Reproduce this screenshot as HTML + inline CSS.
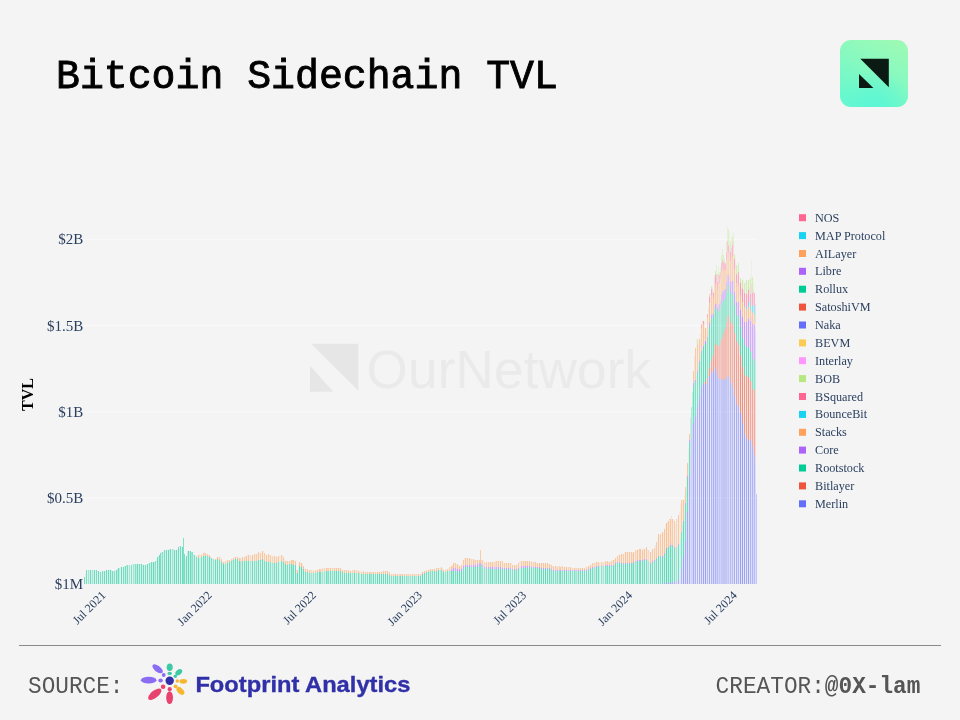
<!DOCTYPE html>
<html><head><meta charset="utf-8"><title>Bitcoin Sidechain TVL</title>
<style>
html,body{margin:0;padding:0;}
body{width:960px;height:720px;background:#f4f4f4;overflow:hidden;position:relative;font-family:"Liberation Sans",sans-serif;}
svg{position:absolute;left:0;top:0;opacity:0.999;}
.title{font-family:"Liberation Mono",monospace;font-size:39.85px;fill:#000;stroke:#000;stroke-width:0.9px;}
.lg{font-family:"Liberation Serif",serif;font-size:12.2px;fill:#2a3f5f;}
.yt{font-family:"Liberation Serif",serif;font-size:15px;fill:#2a3f5f;}
.xt{font-family:"Liberation Serif",serif;font-size:12px;fill:#2a3f5f;}
.tvl{font-family:"Liberation Serif",serif;font-size:16px;font-weight:bold;fill:#000;}
.wm{font-family:"Liberation Sans",sans-serif;font-size:53px;fill:#eaeaea;letter-spacing:0.2px;}
.src{font-family:"Liberation Mono",monospace;font-size:22px;fill:#555;}
.cr{font-family:"Liberation Mono",monospace;font-size:22.5px;fill:#555;}
.fp{font-family:"Liberation Sans",sans-serif;font-size:22px;font-weight:bold;fill:#3030a8;stroke:#3030a8;stroke-width:0.35px;}
</style></head>
<body>
<svg width="960" height="720" viewBox="0 0 960 720">
<defs>
<linearGradient id="lg1" x1="0.85" y1="0" x2="0.35" y2="1"><stop offset="0" stop-color="#9dfab4"/><stop offset="0.5" stop-color="#86f9c0"/><stop offset="1" stop-color="#68f8ce"/></linearGradient>
<radialGradient id="rg1" cx="0.52" cy="1" r="0.55"><stop offset="0" stop-color="#58f6d6" stop-opacity="0.9"/><stop offset="1" stop-color="#58f6d6" stop-opacity="0"/></radialGradient>
</defs>
<text x="56" y="88" class="title">Bitcoin Sidechain TVL</text>
<!-- logo -->
<rect x="840" y="40" width="68" height="67" rx="11" fill="url(#lg1)"/><rect x="840" y="40" width="68" height="67" rx="11" fill="url(#rg1)"/>
<path d="M860.3 58.8H888.8V87.2Z M859 74.1V87.9H873.4Z" fill="#0c1a14"/>
<!-- watermark -->
<path d="M311.2 343.8H358.3V390.8Z M310 365.8V391.7H333.3Z" fill="#e6e6e6"/>
<text x="366.6" y="388" class="wm">OurNetwork</text>
<!-- grid -->
<rect x="84" y="238.7" width="673" height="1.2" fill="#f9f9f9"/>
<rect x="84" y="324.9" width="673" height="1.2" fill="#f9f9f9"/>
<rect x="84" y="411.1" width="673" height="1.2" fill="#f9f9f9"/>
<rect x="84" y="497.3" width="673" height="1.2" fill="#f9f9f9"/>

<text x="83.2" y="244.4" class="yt" text-anchor="end">$2B</text>
<text x="83.2" y="330.6" class="yt" text-anchor="end">$1.5B</text>
<text x="83.2" y="416.8" class="yt" text-anchor="end">$1B</text>
<text x="83.2" y="503.0" class="yt" text-anchor="end">$0.5B</text>
<text x="83.2" y="589.1" class="yt" text-anchor="end">$1M</text>

<text transform="translate(106.5,596) rotate(-45)" class="xt" text-anchor="end">Jul 2021</text>
<text transform="translate(212.5,596) rotate(-45)" class="xt" text-anchor="end">Jan 2022</text>
<text transform="translate(316.7,596) rotate(-45)" class="xt" text-anchor="end">Jul 2022</text>
<text transform="translate(422.7,596) rotate(-45)" class="xt" text-anchor="end">Jan 2023</text>
<text transform="translate(526.9,596) rotate(-45)" class="xt" text-anchor="end">Jul 2023</text>
<text transform="translate(632.9,596) rotate(-45)" class="xt" text-anchor="end">Jan 2024</text>
<text transform="translate(737.7,596) rotate(-45)" class="xt" text-anchor="end">Jul 2024</text>

<text transform="translate(33,394.5) rotate(-90)" class="tvl" text-anchor="middle">TVL</text>
<mask id="stripes" maskUnits="userSpaceOnUse" x="80" y="200" width="690" height="395"><path d="M85.5 200V590M87.5 200V590M95.5 200V590M97.5 200V590M99.5 200V590M101.5 200V590M105.5 200V590M107.5 200V590M115.5 200V590M120.5 200V590M122.5 200V590M128.5 200V590M130.5 200V590M132.5 200V590M146.5 200V590M148.5 200V590M156.5 200V590M167.5 200V590M171.5 200V590M179.5 200V590M181.5 200V590M195.5 200V590M202.5 200V590M206.5 200V590M218.5 200V590M220.5 200V590M226.5 200V590M228.5 200V590M230.5 200V590M236.5 200V590M243.5 200V590M249.5 200V590M253.5 200V590M259.5 200V590M261.5 200V590M267.5 200V590M280.5 200V590M288.5 200V590M294.5 200V590M298.5 200V590M304.5 200V590M341.5 200V590M343.5 200V590M345.5 200V590M347.5 200V590M351.5 200V590M357.5 200V590M360.5 200V590M368.5 200V590M376.5 200V590M380.5 200V590M384.5 200V590M386.5 200V590M388.5 200V590M403.5 200V590M405.5 200V590M417.5 200V590M419.5 200V590M421.5 200V590M423.5 200V590M427.5 200V590M439.5 200V590M462.5 200V590M464.5 200V590M468.5 200V590M472.5 200V590M476.5 200V590M487.5 200V590M499.5 200V590M501.5 200V590M505.5 200V590M507.5 200V590M511.5 200V590M513.5 200V590M528.5 200V590M530.5 200V590M542.5 200V590M544.5 200V590M546.5 200V590M554.5 200V590M565.5 200V590M571.5 200V590M581.5 200V590M583.5 200V590M585.5 200V590M587.5 200V590M600.5 200V590M604.5 200V590M612.5 200V590M616.5 200V590M618.5 200V590M620.5 200V590M622.5 200V590M624.5 200V590M628.5 200V590M630.5 200V590M641.5 200V590M645.5 200V590M649.5 200V590M653.5 200V590M657.5 200V590M661.5 200V590M673.5 200V590M677.5 200V590M679.5 200V590M696.5 200V590M698.5 200V590M710.5 200V590M735.5 200V590M739.5 200V590M743.5 200V590M745.5 200V590" stroke="rgb(20,20,20)" stroke-width="1" fill="none"/><path d="M89.5 200V590M91.5 200V590M93.5 200V590M103.5 200V590M109.5 200V590M140.5 200V590M142.5 200V590M144.5 200V590M163.5 200V590M165.5 200V590M175.5 200V590M177.5 200V590M197.5 200V590M200.5 200V590M212.5 200V590M214.5 200V590M216.5 200V590M222.5 200V590M224.5 200V590M234.5 200V590M238.5 200V590M247.5 200V590M251.5 200V590M257.5 200V590M263.5 200V590M265.5 200V590M271.5 200V590M275.5 200V590M277.5 200V590M279.5 200V590M300.5 200V590M302.5 200V590M306.5 200V590M308.5 200V590M314.5 200V590M318.5 200V590M323.5 200V590M325.5 200V590M329.5 200V590M331.5 200V590M337.5 200V590M339.5 200V590M349.5 200V590M353.5 200V590M355.5 200V590M364.5 200V590M366.5 200V590M374.5 200V590M378.5 200V590M382.5 200V590M390.5 200V590M392.5 200V590M394.5 200V590M398.5 200V590M401.5 200V590M411.5 200V590M413.5 200V590M425.5 200V590M433.5 200V590M435.5 200V590M437.5 200V590M444.5 200V590M446.5 200V590M448.5 200V590M454.5 200V590M458.5 200V590M460.5 200V590M478.5 200V590M483.5 200V590M485.5 200V590M497.5 200V590M503.5 200V590M509.5 200V590M517.5 200V590M519.5 200V590M520.5 200V590M522.5 200V590M532.5 200V590M538.5 200V590M540.5 200V590M548.5 200V590M563.5 200V590M567.5 200V590M573.5 200V590M579.5 200V590M591.5 200V590M610.5 200V590M626.5 200V590M634.5 200V590M638.5 200V590M651.5 200V590M659.5 200V590M663.5 200V590M665.5 200V590M675.5 200V590M680.5 200V590M682.5 200V590M684.5 200V590M688.5 200V590M700.5 200V590M702.5 200V590M704.5 200V590M706.5 200V590M708.5 200V590M741.5 200V590M747.5 200V590M749.5 200V590" stroke="rgb(31,31,31)" stroke-width="1" fill="none"/><path d="M111.5 200V590M113.5 200V590M124.5 200V590M134.5 200V590M138.5 200V590M152.5 200V590M158.5 200V590M161.5 200V590M169.5 200V590M173.5 200V590M185.5 200V590M187.5 200V590M189.5 200V590M193.5 200V590M199.5 200V590M208.5 200V590M210.5 200V590M232.5 200V590M241.5 200V590M245.5 200V590M255.5 200V590M269.5 200V590M273.5 200V590M282.5 200V590M284.5 200V590M286.5 200V590M290.5 200V590M296.5 200V590M312.5 200V590M316.5 200V590M321.5 200V590M333.5 200V590M335.5 200V590M362.5 200V590M372.5 200V590M396.5 200V590M409.5 200V590M415.5 200V590M429.5 200V590M431.5 200V590M450.5 200V590M456.5 200V590M466.5 200V590M470.5 200V590M493.5 200V590M526.5 200V590M534.5 200V590M536.5 200V590M552.5 200V590M558.5 200V590M561.5 200V590M569.5 200V590M577.5 200V590M589.5 200V590M593.5 200V590M595.5 200V590M597.5 200V590M602.5 200V590M608.5 200V590M614.5 200V590M643.5 200V590M647.5 200V590M655.5 200V590M667.5 200V590M669.5 200V590M686.5 200V590M690.5 200V590M729.5 200V590M733.5 200V590M737.5 200V590M751.5 200V590M755.5 200V590" stroke="rgb(41,41,41)" stroke-width="1" fill="none"/><path d="M119.5 200V590M126.5 200V590M150.5 200V590M204.5 200V590M310.5 200V590M442.5 200V590M474.5 200V590M489.5 200V590M491.5 200V590M515.5 200V590M524.5 200V590M550.5 200V590M556.5 200V590M599.5 200V590M671.5 200V590M692.5 200V590M694.5 200V590M712.5 200V590M714.5 200V590M731.5 200V590M753.5 200V590" stroke="rgb(51,51,51)" stroke-width="1" fill="none"/><path d="M117.5 200V590M136.5 200V590M154.5 200V590M359.5 200V590M407.5 200V590M440.5 200V590M636.5 200V590M718.5 200V590M720.5 200V590" stroke="rgb(61,61,61)" stroke-width="1" fill="none"/><path d="M452.5 200V590M495.5 200V590M575.5 200V590M606.5 200V590M632.5 200V590M691.5 200V590M716.5 200V590M727.5 200V590" stroke="rgb(71,71,71)" stroke-width="1" fill="none"/><path d="M191.5 200V590M250.5 200V590M292.5 200V590M327.5 200V590M370.5 200V590M416.5 200V590M481.5 200V590M603.5 200V590M648.5 200V590M719.5 200V590M721.5 200V590M722.5 200V590M724.5 200V590M726.5 200V590M756.5 200V590" stroke="rgb(82,82,82)" stroke-width="1" fill="none"/><path d="M88.5 200V590M92.5 200V590M129.5 200V590M133.5 200V590M172.5 200V590M240.5 200V590M272.5 200V590M311.5 200V590M322.5 200V590M324.5 200V590M352.5 200V590M356.5 200V590M399.5 200V590M408.5 200V590M449.5 200V590M494.5 200V590M576.5 200V590M594.5 200V590M635.5 200V590M676.5 200V590M723.5 200V590M725.5 200V590M728.5 200V590" stroke="rgb(92,92,92)" stroke-width="1" fill="none"/><path d="M213.5 200V590M313.5 200V590M315.5 200V590M410.5 200V590M445.5 200V590M471.5 200V590M482.5 200V590M484.5 200V590M568.5 200V590M601.5 200V590M717.5 200V590M732.5 200V590" stroke="rgb(102,102,102)" stroke-width="1" fill="none"/><path d="M155.5 200V590M192.5 200V590M225.5 200V590M332.5 200V590M371.5 200V590M406.5 200V590M533.5 200V590M559.5 200V590M572.5 200V590M707.5 200V590M730.5 200V590M754.5 200V590" stroke="rgb(112,112,112)" stroke-width="1" fill="none"/><path d="M114.5 200V590M131.5 200V590M135.5 200V590M149.5 200V590M162.5 200V590M183.5 200V590M196.5 200V590M207.5 200V590M211.5 200V590M233.5 200V590M254.5 200V590M256.5 200V590M270.5 200V590M278.5 200V590M309.5 200V590M317.5 200V590M328.5 200V590M363.5 200V590M365.5 200V590M375.5 200V590M391.5 200V590M393.5 200V590M404.5 200V590M412.5 200V590M430.5 200V590M432.5 200V590M441.5 200V590M479.5 200V590M480.5 200V590M486.5 200V590M488.5 200V590M496.5 200V590M510.5 200V590M512.5 200V590M516.5 200V590M551.5 200V590M555.5 200V590M557.5 200V590M562.5 200V590M574.5 200V590M605.5 200V590M611.5 200V590M617.5 200V590M654.5 200V590M681.5 200V590M695.5 200V590M697.5 200V590M711.5 200V590M715.5 200V590M738.5 200V590M750.5 200V590M752.5 200V590" stroke="rgb(122,122,122)" stroke-width="1" fill="none"/><path d="M84.5 200V590M86.5 200V590M96.5 200V590M100.5 200V590M102.5 200V590M112.5 200V590M123.5 200V590M125.5 200V590M127.5 200V590M139.5 200V590M145.5 200V590M160.5 200V590M164.5 200V590M184.5 200V590M194.5 200V590M201.5 200V590M219.5 200V590M231.5 200V590M237.5 200V590M242.5 200V590M244.5 200V590M260.5 200V590M264.5 200V590M268.5 200V590M274.5 200V590M276.5 200V590M281.5 200V590M283.5 200V590M287.5 200V590M289.5 200V590M305.5 200V590M307.5 200V590M320.5 200V590M334.5 200V590M358.5 200V590M361.5 200V590M367.5 200V590M389.5 200V590M397.5 200V590M414.5 200V590M426.5 200V590M428.5 200V590M434.5 200V590M436.5 200V590M447.5 200V590M455.5 200V590M463.5 200V590M467.5 200V590M475.5 200V590M490.5 200V590M502.5 200V590M504.5 200V590M514.5 200V590M518.5 200V590M521.5 200V590M523.5 200V590M531.5 200V590M537.5 200V590M553.5 200V590M578.5 200V590M584.5 200V590M586.5 200V590M588.5 200V590M592.5 200V590M598.5 200V590M607.5 200V590M609.5 200V590M623.5 200V590M639.5 200V590M646.5 200V590M652.5 200V590M656.5 200V590M660.5 200V590M672.5 200V590M674.5 200V590M678.5 200V590M685.5 200V590M689.5 200V590M693.5 200V590M699.5 200V590M701.5 200V590M713.5 200V590M734.5 200V590M736.5 200V590" stroke="rgb(133,133,133)" stroke-width="1" fill="none"/><path d="M90.5 200V590M94.5 200V590M98.5 200V590M104.5 200V590M108.5 200V590M110.5 200V590M116.5 200V590M118.5 200V590M121.5 200V590M137.5 200V590M141.5 200V590M143.5 200V590M147.5 200V590M151.5 200V590M157.5 200V590M159.5 200V590M166.5 200V590M170.5 200V590M174.5 200V590M176.5 200V590M178.5 200V590M180.5 200V590M182.5 200V590M186.5 200V590M190.5 200V590M198.5 200V590M203.5 200V590M205.5 200V590M209.5 200V590M215.5 200V590M217.5 200V590M221.5 200V590M227.5 200V590M229.5 200V590M235.5 200V590M246.5 200V590M248.5 200V590M252.5 200V590M258.5 200V590M285.5 200V590M291.5 200V590M293.5 200V590M295.5 200V590M319.5 200V590M326.5 200V590M330.5 200V590M338.5 200V590M340.5 200V590M342.5 200V590M344.5 200V590M346.5 200V590M350.5 200V590M369.5 200V590M373.5 200V590M383.5 200V590M385.5 200V590M395.5 200V590M400.5 200V590M402.5 200V590M420.5 200V590M424.5 200V590M443.5 200V590M451.5 200V590M473.5 200V590M477.5 200V590M492.5 200V590M506.5 200V590M525.5 200V590M527.5 200V590M535.5 200V590M547.5 200V590M549.5 200V590M560.5 200V590M564.5 200V590M570.5 200V590M580.5 200V590M582.5 200V590M590.5 200V590M596.5 200V590M615.5 200V590M619.5 200V590M627.5 200V590M631.5 200V590M633.5 200V590M637.5 200V590M640.5 200V590M642.5 200V590M644.5 200V590M650.5 200V590M658.5 200V590M664.5 200V590M668.5 200V590M687.5 200V590M709.5 200V590M746.5 200V590" stroke="rgb(143,143,143)" stroke-width="1" fill="none"/><path d="M106.5 200V590M153.5 200V590M168.5 200V590M188.5 200V590M239.5 200V590M262.5 200V590M266.5 200V590M297.5 200V590M299.5 200V590M303.5 200V590M336.5 200V590M348.5 200V590M354.5 200V590M377.5 200V590M379.5 200V590M381.5 200V590M387.5 200V590M418.5 200V590M438.5 200V590M453.5 200V590M457.5 200V590M459.5 200V590M461.5 200V590M465.5 200V590M469.5 200V590M498.5 200V590M500.5 200V590M508.5 200V590M529.5 200V590M541.5 200V590M543.5 200V590M566.5 200V590M613.5 200V590M621.5 200V590M625.5 200V590M629.5 200V590M662.5 200V590M670.5 200V590M683.5 200V590M703.5 200V590M744.5 200V590M748.5 200V590" stroke="rgb(153,153,153)" stroke-width="1" fill="none"/><path d="M223.5 200V590M301.5 200V590M422.5 200V590M539.5 200V590M545.5 200V590M666.5 200V590M705.5 200V590M740.5 200V590M742.5 200V590" stroke="rgb(163,163,163)" stroke-width="1" fill="none"/></mask>
<filter id="soft" filterUnits="userSpaceOnUse" x="78" y="200" width="690" height="395"><feGaussianBlur stdDeviation="0.35 0.3"/></filter>
<g filter="url(#soft)"><g mask="url(#stripes)" shape-rendering="crispEdges"><path d="M84 584V576.7h1V572.6h1V570.4h1h1V570.3h1V570.1h1V569.9h1V569.7h1h1V569.6h1h1V570.1h1V570.4h1V570.8h1V571.3h1V571.7h1V571.6h1h1V571.3h1V571.1h1V570.8h1V570.5h1V570.3h1V570.1h1V569.6h1V569.9h1V570.1h1V570.4h1V570.8h1V570.9h1V570.7h1V570h1V569.5h1V568.7h1V568.4h1V568h1V567.3h1h1V566.8h1V566.6h1V566.2h1V565.7h1V565.4h1V565h1V564.8h1h1V564.5h1h1V564h1V564.1h1V563.9h1h1V563.8h1V563.9h1V563.7h1V563.8h1V563.7h1V564.1h1V564.4h1V564.7h1V564.8h1V564.7h1V564h1V563.7h1V563.1h1V562.7h1V562.5h1V562.2h1V561.9h1V561.8h1V561.5h1V560.6h1V558.9h1V557.3h1V556h1V554.6h1V553.4h1V552.2h1V551.8h1V550.7h1V550.4h1V550.2h1V549.9h1V549.2h1V549.5h1V549.2h1V549.3h1V549.8h1V548.8h1V549.4h1V549.8h1h1V549.7h1V548.6h1V547.2h1V546h1V546.1h1V546.6h1V546.9h1V537.6h1V554.2h1V559.3h1V555.7h1V550.7h1V551.3h1h1V551.4h1V551.5h1V551.6h1V553.5h1V554.7h1V555.5h1V556h1V556.4h1V555h1V554.2h1V554.3h1V554.5h1V554h1V553.4h1V551.6h1V552.6h1V553.5h1V553.8h1V555.2h1V555.4h1V557h1V557.7h1V558h1V558.6h1V559.5h1V559.2h1V558.3h1V556.6h1V556h1V556.5h1V556.7h1V558.6h1V561.7h1V561.6h1V561.5h1V561.2h1V560.8h1V560.3h1V560.2h1V559.8h1V559.7h1V558.5h1V558.1h1V557.9h1V557.4h1V557h1V555.9h1V556.5h1h1V557.6h1V558h1V558.1h1V556.6h1h1V556.8h1V555.8h1V556.1h1V554.3h1V554.9h1V555h1V555.1h1V555.6h1V554.8h1V554.9h1V553.9h1V554.4h1V553.7h1V552.6h1V551.5h1V552.9h1V552.7h1V551.6h1V551.3h1h1V553.2h1V554.1h1V554.6h1V554.8h1V554.4h1V554.9h1V554.7h1V555.7h1V555.8h1V556.1h1V556h1V556.4h1V556.7h1V556h1V555.6h1V555.5h1V555.1h1V555.2h1h1V556.9h1V559h1V561.1h1V561.3h1V561.2h1V560.7h1V560.5h1V560.6h1V560h1V560.2h1V560.3h1V560.4h1V561.2h1V570.3h1V569.9h1V564.2h1V562.3h1V562.7h1V562.6h1V562.8h1V566.1h1V567.9h1V568.6h1V569h1h1V569.5h1V569.7h1V569.9h1V570.4h1h1V570.5h1V570.6h1V570.2h1V570.1h1V569.7h1V569.4h1V569h1h1V568.7h1V568.4h1V567.7h1V567.6h1V567.8h1V567.7h1h1h1V567.8h1h1V568h1V567.9h1V567.5h1V567.7h1h1V567.8h1V567.7h1h1V567.9h1V568h1V568.7h1V569.5h1V569.9h1V570.1h1V570.2h1V570h1V570.6h1V570.4h1V570.5h1V570.6h1V570.5h1V570.2h1V570.1h1V570h1V569.9h1V570h1V570.2h1V570.7h1V571.1h1V571.4h1V571.7h1h1V571.4h1V571.6h1V571.7h1V571.5h1V571.8h1V571.5h1V571.7h1V572.1h1h1V572h1V571.6h1V571.5h1V571.8h1V571.5h1V571.6h1V571.3h1V571.5h1V571.4h1V571.6h1V571.4h1h1V571.2h1V571h1V570.9h1V571.3h1V571.5h1V572.3h1V574.3h1V574.2h1V574.3h1V574.4h1V574.2h1h1V574.4h1V574.2h1h1V574.1h1h1h1V574h1V574.1h1h1V573.9h1V574.1h1h1V574.3h1V574.2h1V574.1h1V574.4h1V573.9h1V574.3h1h1h1h1V574.2h1V574.4h1h1V574.2h1V573.2h1V571.9h1V571.5h1V570.7h1V570.5h1V570.2h1V570.3h1V569.6h1V569.1h1V569h1V569.1h1V569h1V568.8h1h1V568.4h1V568.3h1V568.1h1V567.7h1V567.8h1h1V567.1h1V568.2h1V569.5h1V570.6h1V569.9h1V569.1h1V568.6h1V567.5h1V567.4h1V566.7h1V565.7h1V564.6h1V563.4h1V562.3h1V563.2h1V563.8h1V564.1h1V564.9h1V566h1V566.1h1V564.8h1V562.6h1V560h1V557.5h1V557.6h1V558.1h1V558.4h1V558.7h1V558.3h1V558.5h1V558.8h1V559h1V559.2h1V559.7h1h1V560.3h1V559.6h1V560.2h1V559.8h1V550.2h1V560h1V559.9h1V560.7h1V562.2h1V562.7h1V562.2h1V562.5h1V562.1h1V562.2h1V562h1V562.3h1V561.5h1V561.7h1h1V560.8h1V561h1V560.1h1V560.8h1V560.9h1V560.7h1V560.2h1V561.4h1V562.6h1V562.9h1V563.2h1V563h1V563.1h1V563.3h1V562.8h1V563.1h1V563.3h1V564.5h1V565.3h1V564.8h1V564.7h1V564.9h1V564.4h1V563h1V561h1h1h1h1V561.1h1V560.9h1V561.3h1h1h1V561.2h1V561.1h1V560.8h1V561.9h1V561.1h1V561.7h1V561.5h1V562.2h1V563.2h1h1V563.8h1V563.4h1V563.6h1V563.2h1V563h1V562.8h1V562.7h1V563.1h1V562.8h1V562.9h1V563.5h1V563.9h1h1V564.8h1V566h1h1V565.8h1h1V566.2h1V566.5h1V566.3h1V566.4h1V566.5h1V566.1h1V566.2h1V566.6h1V566.7h1V566.4h1V566.9h1V567.3h1V567h1V567.4h1V567.1h1V567.8h1V568h1V568.3h1V567.6h1V568.2h1V568h1V568.1h1h1V567.8h1h1V568h1V568.2h1h1V568h1V567.3h1h1V566.8h1V566.2h1V565.8h1V565h1V564.1h1V562.6h1V562.7h1V562.6h1V562.8h1V562.4h1h1V562.2h1V562.6h1V562.3h1V562h1h1h1h1V561.1h1V561.8h1V561.2h1V561.9h1V561.6h1V561h1V561.1h1V560.3h1h1V559.8h1V557.9h1V556.6h1V556.1h1V554.1h1V555h1V554h1V554.2h1V554h1V553.5h1V553.1h1V552.1h1V550.9h1V551.6h1V552.2h1V552h1V552.3h1V552.1h1V552.7h1V552.3h1V551.5h1V550.2h1V550.3h1V549.6h1V549.3h1V549.1h1V548.7h1V548.4h1V549.5h1V548.2h1V548.6h1h1V547.4h1V549.4h1V549.9h1V550.9h1V552.3h1V550.6h1V549.3h1V548.5h1V548.2h1V545.1h1V541.5h1V538.4h1V533.9h1V534.5h1V534.1h1V533.6h1V532.2h1V532.3h1V528.6h1V525.3h1V522.7h1V521.1h1V521.2h1V517.5h1V519h1V516.3h1V519.3h1V519h1V521.3h1V523.7h1V519.4h1V518h1V514.9h1V512.3h1V505h1V499.8h1V499.2h1V500.1h1V496.3h1V486.8h1V475.8h1V462.8h1V448.7h1V433.7h1V418h1V406.5h1V391.9h1V371.1h1V355.7h1V348.1h1V337.6h1V339.3h1V341.3h1V339.1h1V334h1V324.1h1V318.4h1V320.9h1V320.8h1V328.2h1V330.5h1V313.9h1V306.4h1V293.9h1V292.6h1V285.5h1V286.5h1V291.6h1V274.8h1V271.3h1V265.2h1V274.3h1V267.2h1V271.7h1V266.5h1V254.9h1V249h1V255.4h1V259.4h1V262.2h1V241.9h1V227h1V229.2h1V233.5h1V241.6h1V238h1V235.8h1V231.7h1V253.5h1V256.1h1V264.8h1V265.8h1V262.8h1V280.7h1V277.7h1V281.4h1V280h1V277.9h1V283.4h1V280.6h1V279.7h1V283h1V280.3h1V280.2h1V278.2h1V259.7h1V277.1h1V282.3h1V293.3h1V304.3h1V493.6h1V584Z" fill="#B6E880"/>
<path d="M84 584V576.7h1V572.6h1V570.4h1h1V570.3h1V570.1h1V569.9h1V569.7h1h1V569.6h1h1V570.1h1V570.4h1V570.8h1V571.3h1V571.7h1V571.6h1h1V571.3h1V571.1h1V570.8h1V570.5h1V570.3h1V570.1h1V569.6h1V569.9h1V570.1h1V570.4h1V570.8h1V570.9h1V570.7h1V570h1V569.5h1V568.7h1V568.4h1V568h1V567.3h1h1V566.8h1V566.6h1V566.2h1V565.7h1V565.4h1V565h1V564.8h1h1V564.5h1h1V564h1V564.1h1V563.9h1h1V563.8h1V563.9h1V563.7h1V563.8h1V563.7h1V564.1h1V564.4h1V564.7h1V564.8h1V564.7h1V564h1V563.7h1V563.1h1V562.7h1V562.5h1V562.2h1V561.9h1V561.8h1V561.5h1V560.6h1V558.9h1V557.3h1V556h1V554.6h1V553.4h1V552.2h1V551.8h1V550.7h1V550.4h1V550.2h1V549.9h1V549.2h1V549.5h1V549.2h1V549.3h1V549.8h1V548.8h1V549.4h1V549.8h1h1V549.7h1V548.6h1V547.2h1V546h1V546.1h1V546.6h1V546.9h1V537.6h1V554.2h1V559.3h1V555.7h1V550.7h1V551.3h1h1V551.4h1V551.5h1V551.6h1V553.5h1V554.7h1V555.5h1V556h1V556.4h1V555h1V554.2h1V554.3h1V554.5h1V554h1V553.4h1V551.6h1V552.6h1V553.5h1V553.8h1V555.2h1V555.4h1V557h1V557.7h1V558h1V558.6h1V559.5h1V559.2h1V558.3h1V556.6h1V556h1V556.5h1V556.7h1V558.6h1V561.7h1V561.6h1V561.5h1V561.2h1V560.8h1V560.3h1V560.2h1V559.8h1V559.7h1V558.5h1V558.1h1V557.9h1V557.4h1V557h1V555.9h1V556.5h1h1V557.6h1V558h1V558.1h1V556.6h1h1V556.8h1V555.8h1V556.1h1V554.3h1V554.9h1V555h1V555.1h1V555.6h1V554.8h1V554.9h1V553.9h1V554.4h1V553.7h1V552.6h1V551.5h1V552.9h1V552.7h1V551.6h1V551.3h1h1V553.2h1V554.1h1V554.6h1V554.8h1V554.4h1V554.9h1V554.7h1V555.7h1V555.8h1V556.1h1V556h1V556.4h1V556.7h1V556h1V555.6h1V555.5h1V555.1h1V555.2h1h1V556.9h1V559h1V561.1h1V561.3h1V561.2h1V560.7h1V560.5h1V560.6h1V560h1V560.2h1V560.3h1V560.4h1V561.2h1V570.3h1V569.9h1V564.2h1V562.3h1V562.7h1V562.6h1V562.8h1V566.1h1V567.9h1V568.6h1V569h1h1V569.5h1V569.7h1V569.9h1V570.4h1h1V570.5h1V570.6h1V570.2h1V570.1h1V569.7h1V569.4h1V569h1h1V568.7h1V568.4h1V567.7h1V567.6h1V567.8h1V567.7h1h1h1V567.8h1h1V568h1V567.9h1V567.5h1V567.7h1h1V567.8h1V567.7h1h1V567.9h1V568h1V568.7h1V569.5h1V569.9h1V570.1h1V570.2h1V570h1V570.6h1V570.4h1V570.5h1V570.6h1V570.5h1V570.2h1V570.1h1V570h1V569.9h1V570h1V570.2h1V570.7h1V571.1h1V571.4h1V571.7h1h1V571.4h1V571.6h1V571.7h1V571.5h1V571.8h1V571.5h1V571.7h1V572.1h1h1V572h1V571.6h1V571.5h1V571.8h1V571.5h1V571.6h1V571.3h1V571.5h1V571.4h1V571.6h1V571.4h1h1V571.2h1V571h1V570.9h1V571.3h1V571.5h1V572.3h1V574.3h1V574.2h1V574.3h1V574.4h1V574.2h1h1V574.4h1V574.2h1h1V574.1h1h1h1V574h1V574.1h1h1V573.9h1V574.1h1h1V574.3h1V574.2h1V574.1h1V574.4h1V573.9h1V574.3h1h1h1h1V574.2h1V574.4h1h1V574.2h1V573.2h1V571.9h1V571.5h1V570.7h1V570.5h1V570.2h1V570.3h1V569.6h1V569.1h1V569h1V569.1h1V569h1V568.8h1h1V568.4h1V568.3h1V568.1h1V567.7h1V567.8h1h1V567.1h1V568.2h1V569.5h1V570.6h1V569.9h1V569.1h1V568.6h1V567.5h1V567.4h1V566.7h1V565.7h1V564.6h1V563.4h1V562.3h1V563.2h1V563.8h1V564.1h1V564.9h1V566h1V566.1h1V564.8h1V562.6h1V560h1V557.5h1V557.6h1V558.1h1V558.4h1V558.7h1V558.3h1V558.5h1V558.8h1V559h1V559.2h1V559.7h1h1V560.3h1V559.6h1V560.2h1V559.8h1V550.2h1V560h1V559.9h1V560.7h1V562.2h1V562.7h1V562.2h1V562.5h1V562.1h1V562.2h1V562h1V562.3h1V561.5h1V561.7h1h1V560.8h1V561h1V560.1h1V560.8h1V560.9h1V560.7h1V560.2h1V561.4h1V562.6h1V562.9h1V563.2h1V563h1V563.1h1V563.3h1V562.8h1V563.1h1V563.3h1V564.5h1V565.3h1V564.8h1V564.7h1V564.9h1V564.4h1V563h1V561h1h1h1h1V561.1h1V560.9h1V561.3h1h1h1V561.2h1V561.1h1V560.8h1V561.9h1V561.1h1V561.7h1V561.5h1V562.2h1V563.2h1h1V563.8h1V563.4h1V563.6h1V563.2h1V563h1V562.8h1V562.7h1V563.1h1V562.8h1V562.9h1V563.5h1V563.9h1h1V564.8h1V566h1h1V565.8h1h1V566.2h1V566.5h1V566.3h1V566.4h1V566.5h1V566.1h1V566.2h1V566.6h1V566.7h1V566.4h1V566.9h1V567.3h1V567h1V567.4h1V567.1h1V567.8h1V568h1V568.3h1V567.6h1V568.2h1V568h1V568.1h1h1V567.8h1h1V568h1V568.2h1h1V568h1V567.3h1h1V566.8h1V566.2h1V565.8h1V565h1V564.1h1V562.6h1V562.7h1V562.6h1V562.8h1V562.4h1h1V562.2h1V562.6h1V562.3h1V562h1h1h1h1V561.1h1V561.8h1V561.2h1V561.9h1V561.6h1V561h1V561.1h1V560.3h1h1V559.8h1V557.9h1V556.6h1V556.1h1V554.1h1V555h1V554h1V554.2h1V554h1V553.5h1V553.1h1V552.1h1V550.9h1V551.6h1V552.2h1V552h1V552.3h1V552.1h1V552.7h1V552.3h1V551.5h1V550.2h1V550.3h1V549.6h1V549.3h1V549.1h1V548.7h1V548.4h1V549.5h1V548.2h1V548.6h1h1V547.4h1V549.4h1V549.9h1V550.9h1V552.3h1V550.6h1V549.3h1V548.5h1V548.2h1V545.1h1V541.5h1V538.4h1V533.9h1V534.5h1V534.1h1V533.6h1V532.2h1V532.3h1V528.6h1V525.3h1V522.7h1V521.1h1V521.2h1V517.5h1V519h1V516.3h1V519.3h1V519h1V521.3h1V523.7h1V519.4h1V518h1V514.9h1V512.3h1V505h1V499.8h1V499.2h1V500.1h1V496.3h1V486.8h1V475.8h1V462.8h1V448.7h1V433.7h1V418h1V406.5h1V391.9h1V371.1h1V355.7h1V348.1h1V337.6h1V344.9h1V341.4h1V339.1h1V334h1V324.6h1V320.9h1h1V320.8h1V328.2h1V330.5h1V313.9h1V307.8h1V297h1V295.7h1V289h1V288.9h1V292.5h1V278.4h1V275.2h1V274h1V281.7h1V275.3h1h1V271.7h1V263.4h1V259.7h1V262.4h1V263.3h1V264h1V252.3h1V241.3h1V244.5h1V246.9h1V252h1V247.9h1V244.6h1V240.8h1V258.9h1V263.8h1V273.9h1V276.1h1V271.8h1V285.4h1V283.3h1V288.4h1V289.1h1V287.3h1V292.7h1V293.9h1V293.8h1V296.3h1V289.7h1V287.1h1V293.6h1V283.9h1V293.3h1V290.4h1V293.3h1V304.3h1V493.6h1V584Z" fill="#FF6692"/>
<path d="M84 584V576.7h1V572.6h1V570.4h1h1V570.3h1V570.1h1V569.9h1V569.7h1h1V569.6h1h1V570.1h1V570.4h1V570.8h1V571.3h1V571.7h1V571.6h1h1V571.3h1V571.1h1V570.8h1V570.5h1V570.3h1V570.1h1V569.6h1V569.9h1V570.1h1V570.4h1V570.8h1V570.9h1V570.7h1V570h1V569.5h1V568.7h1V568.4h1V568h1V567.3h1h1V566.8h1V566.6h1V566.2h1V565.7h1V565.4h1V565h1V564.8h1h1V564.5h1h1V564h1V564.1h1V563.9h1h1V563.8h1V563.9h1V563.7h1V563.8h1V563.7h1V564.1h1V564.4h1V564.7h1V564.8h1V564.7h1V564h1V563.7h1V563.1h1V562.7h1V562.5h1V562.2h1V561.9h1V561.8h1V561.5h1V560.6h1V558.9h1V557.3h1V556h1V554.6h1V553.4h1V552.2h1V551.8h1V550.7h1V550.4h1V550.2h1V549.9h1V549.2h1V549.5h1V549.2h1V549.3h1V549.8h1V548.8h1V549.4h1V549.8h1h1V549.7h1V548.6h1V547.2h1V546h1V546.1h1V546.6h1V546.9h1V537.6h1V554.2h1V559.3h1V555.7h1V550.7h1V551.3h1h1V551.4h1V551.5h1V551.6h1V553.5h1V554.7h1V555.5h1V556h1V556.4h1V555h1V554.2h1V554.3h1V554.5h1V554h1V553.4h1V551.6h1V552.6h1V553.5h1V553.8h1V555.2h1V555.4h1V557h1V557.7h1V558h1V558.6h1V559.5h1V559.2h1V558.3h1V556.6h1V556h1V556.5h1V556.7h1V558.6h1V561.7h1V561.6h1V561.5h1V561.2h1V560.8h1V560.3h1V560.2h1V559.8h1V559.7h1V558.5h1V558.1h1V557.9h1V557.4h1V557h1V555.9h1V556.5h1h1V557.6h1V558h1V558.1h1V556.6h1h1V556.8h1V555.8h1V556.1h1V554.3h1V554.9h1V555h1V555.1h1V555.6h1V554.8h1V554.9h1V553.9h1V554.4h1V553.7h1V552.6h1V551.5h1V552.9h1V552.7h1V551.6h1V551.3h1h1V553.2h1V554.1h1V554.6h1V554.8h1V554.4h1V554.9h1V554.7h1V555.7h1V555.8h1V556.1h1V556h1V556.4h1V556.7h1V556h1V555.6h1V555.5h1V555.1h1V555.2h1h1V556.9h1V559h1V561.1h1V561.3h1V561.2h1V560.7h1V560.5h1V560.6h1V560h1V560.2h1V560.3h1V560.4h1V561.2h1V570.3h1V569.9h1V564.2h1V562.3h1V562.7h1V562.6h1V562.8h1V566.1h1V567.9h1V568.6h1V569h1h1V569.5h1V569.7h1V569.9h1V570.4h1h1V570.5h1V570.6h1V570.2h1V570.1h1V569.7h1V569.4h1V569h1h1V568.7h1V568.4h1V567.7h1V567.6h1V567.8h1V567.7h1h1h1V567.8h1h1V568h1V567.9h1V567.5h1V567.7h1h1V567.8h1V567.7h1h1V567.9h1V568h1V568.7h1V569.5h1V569.9h1V570.1h1V570.2h1V570h1V570.6h1V570.4h1V570.5h1V570.6h1V570.5h1V570.2h1V570.1h1V570h1V569.9h1V570h1V570.2h1V570.7h1V571.1h1V571.4h1V571.7h1h1V571.4h1V571.6h1V571.7h1V571.5h1V571.8h1V571.5h1V571.7h1V572.1h1h1V572h1V571.6h1V571.5h1V571.8h1V571.5h1V571.6h1V571.3h1V571.5h1V571.4h1V571.6h1V571.4h1h1V571.2h1V571h1V570.9h1V571.3h1V571.5h1V572.3h1V574.3h1V574.2h1V574.3h1V574.4h1V574.2h1h1V574.4h1V574.2h1h1V574.1h1h1h1V574h1V574.1h1h1V573.9h1V574.1h1h1V574.3h1V574.2h1V574.1h1V574.4h1V573.9h1V574.3h1h1h1h1V574.2h1V574.4h1h1V574.2h1V573.2h1V571.9h1V571.5h1V570.7h1V570.5h1V570.2h1V570.3h1V569.6h1V569.1h1V569h1V569.1h1V569h1V568.8h1h1V568.4h1V568.3h1V568.1h1V567.7h1V567.8h1h1V567.1h1V568.2h1V569.5h1V570.6h1V569.9h1V569.1h1V568.6h1V567.5h1V567.4h1V566.7h1V565.7h1V564.6h1V563.4h1V562.3h1V563.2h1V563.8h1V564.1h1V564.9h1V566h1V566.1h1V564.8h1V562.6h1V560h1V557.5h1V557.6h1V558.1h1V558.4h1V558.7h1V558.3h1V558.5h1V558.8h1V559h1V559.2h1V559.7h1h1V560.3h1V559.6h1V560.2h1V559.8h1V550.2h1V560h1V559.9h1V560.7h1V562.2h1V562.7h1V562.2h1V562.5h1V562.1h1V562.2h1V562h1V562.3h1V561.5h1V561.7h1h1V560.8h1V561h1V560.1h1V560.8h1V560.9h1V560.7h1V560.2h1V561.4h1V562.6h1V562.9h1V563.2h1V563h1V563.1h1V563.3h1V562.8h1V563.1h1V563.3h1V564.5h1V565.3h1V564.8h1V564.7h1V564.9h1V564.4h1V563h1V561h1h1h1h1V561.1h1V560.9h1V561.3h1h1h1V561.2h1V561.1h1V560.8h1V561.9h1V561.1h1V561.7h1V561.5h1V562.2h1V563.2h1h1V563.8h1V563.4h1V563.6h1V563.2h1V563h1V562.8h1V562.7h1V563.1h1V562.8h1V562.9h1V563.5h1V563.9h1h1V564.8h1V566h1h1V565.8h1h1V566.2h1V566.5h1V566.3h1V566.4h1V566.5h1V566.1h1V566.2h1V566.6h1V566.7h1V566.4h1V566.9h1V567.3h1V567h1V567.4h1V567.1h1V567.8h1V568h1V568.3h1V567.6h1V568.2h1V568h1V568.1h1h1V567.8h1h1V568h1V568.2h1h1V568h1V567.3h1h1V566.8h1V566.2h1V565.8h1V565h1V564.1h1V562.6h1V562.7h1V562.6h1V562.8h1V562.4h1h1V562.2h1V562.6h1V562.3h1V562h1h1h1h1V561.1h1V561.8h1V561.2h1V561.9h1V561.6h1V561h1V561.1h1V560.3h1h1V559.8h1V557.9h1V556.6h1V556.1h1V554.1h1V555h1V554h1V554.2h1V554h1V553.5h1V553.1h1V552.1h1V550.9h1V551.6h1V552.2h1V552h1V552.3h1V552.1h1V552.7h1V552.3h1V551.5h1V550.2h1V550.3h1V549.6h1V549.3h1V549.1h1V548.7h1V548.4h1V549.5h1V548.2h1V548.6h1h1V547.4h1V549.4h1V549.9h1V550.9h1V552.3h1V550.6h1V549.3h1V548.5h1V548.2h1V545.1h1V541.5h1V538.4h1V533.9h1V534.5h1V534.1h1V533.6h1V532.2h1V532.3h1V528.6h1V525.3h1V522.7h1V521.1h1V521.2h1V517.5h1V519h1V516.3h1V519.3h1V519h1V521.3h1V523.7h1V519.4h1V518h1V514.9h1V512.3h1V505h1V499.8h1V499.2h1V500.1h1V496.3h1V486.8h1V475.8h1V462.8h1V448.7h1V433.7h1V418h1V406.5h1V391.9h1V371.1h1V355.7h1V348.1h1V337.6h1V346.2h1V343.1h1V339.1h1V334.8h1V328.1h1V324.7h1V323.6h1V320.8h1V328.2h1V330.5h1V316.7h1V312.2h1V303.2h1V301.6h1V295.8h1V295.2h1V297.6h1V286.5h1V283.7h1V283.4h1V289.2h1V284h1V283.1h1V279.3h1V271.9h1V268.1h1V269.6h1h1h1V260h1V251h1V252.9h1V255.6h1V260.5h1V258.2h1V256.4h1V254.5h1V269.3h1V274h1V283.1h1V286.6h1V285.2h1V296.6h1V295.4h1V300h1V301.6h1V300.9h1V306.1h1V307.5h1V307.2h1V309h1V303.3h1V300.8h1V305.7h1V297.5h1V305.9h1V303.6h1V306h1V313.2h1V493.6h1V584Z" fill="#19D3F3"/>
<path d="M84 584V576.7h1V572.6h1V570.4h1h1V570.3h1V570.1h1V569.9h1V569.7h1h1V569.6h1h1V570.1h1V570.4h1V570.8h1V571.3h1V571.7h1V571.6h1h1V571.3h1V571.1h1V570.8h1V570.5h1V570.3h1V570.1h1V569.6h1V569.9h1V570.1h1V570.4h1V570.8h1V570.9h1V570.7h1V570h1V569.5h1V568.7h1V568.4h1V568h1V567.3h1h1V566.8h1V566.6h1V566.2h1V565.7h1V565.4h1V565h1V564.8h1h1V564.5h1h1V564h1V564.1h1V563.9h1h1V563.8h1V563.9h1V563.7h1V563.8h1V563.7h1V564.1h1V564.4h1V564.7h1V564.8h1V564.7h1V564h1V563.7h1V563.1h1V562.7h1V562.5h1V562.2h1V561.9h1V561.8h1V561.5h1V560.6h1V558.9h1V557.3h1V556h1V554.6h1V553.4h1V552.2h1V551.8h1V550.7h1V550.4h1V550.2h1V549.9h1V549.2h1V549.5h1V549.2h1V549.3h1V549.8h1V548.8h1V549.4h1V549.8h1h1V549.7h1V548.6h1V547.2h1V546h1V546.1h1V546.6h1V546.9h1V537.6h1V554.2h1V559.3h1V555.7h1V550.7h1V551.3h1h1V551.4h1V551.5h1V551.6h1V553.5h1V554.7h1V555.5h1V556h1V556.4h1V555h1V554.2h1V554.3h1V554.5h1V554h1V553.4h1V551.6h1V552.6h1V553.5h1V553.8h1V555.2h1V555.4h1V557h1V557.7h1V558h1V558.6h1V559.5h1V559.2h1V558.3h1V556.6h1V556h1V556.5h1V556.7h1V558.6h1V561.7h1V561.6h1V561.5h1V561.2h1V560.8h1V560.3h1V560.2h1V559.8h1V559.7h1V558.5h1V558.1h1V557.9h1V557.4h1V557h1V555.9h1V556.5h1h1V557.6h1V558h1V558.1h1V556.6h1h1V556.8h1V555.8h1V556.1h1V554.3h1V554.9h1V555h1V555.1h1V555.6h1V554.8h1V554.9h1V553.9h1V554.4h1V553.7h1V552.6h1V551.5h1V552.9h1V552.7h1V551.6h1V551.3h1h1V553.2h1V554.1h1V554.6h1V554.8h1V554.4h1V554.9h1V554.7h1V555.7h1V555.8h1V556.1h1V556h1V556.4h1V556.7h1V556h1V555.6h1V555.5h1V555.1h1V555.2h1h1V556.9h1V559h1V561.1h1V561.3h1V561.2h1V560.7h1V560.5h1V560.6h1V560h1V560.2h1V560.3h1V560.4h1V561.2h1V570.3h1V569.9h1V564.2h1V562.3h1V562.7h1V562.6h1V562.8h1V566.1h1V567.9h1V568.6h1V569h1h1V569.5h1V569.7h1V569.9h1V570.4h1h1V570.5h1V570.6h1V570.2h1V570.1h1V569.7h1V569.4h1V569h1h1V568.7h1V568.4h1V567.7h1V567.6h1V567.8h1V567.7h1h1h1V567.8h1h1V568h1V567.9h1V567.5h1V567.7h1h1V567.8h1V567.7h1h1V567.9h1V568h1V568.7h1V569.5h1V569.9h1V570.1h1V570.2h1V570h1V570.6h1V570.4h1V570.5h1V570.6h1V570.5h1V570.2h1V570.1h1V570h1V569.9h1V570h1V570.2h1V570.7h1V571.1h1V571.4h1V571.7h1h1V571.4h1V571.6h1V571.7h1V571.5h1V571.8h1V571.5h1V571.7h1V572.1h1h1V572h1V571.6h1V571.5h1V571.8h1V571.5h1V571.6h1V571.3h1V571.5h1V571.4h1V571.6h1V571.4h1h1V571.2h1V571h1V570.9h1V571.3h1V571.5h1V572.3h1V574.3h1V574.2h1V574.3h1V574.4h1V574.2h1h1V574.4h1V574.2h1h1V574.1h1h1h1V574h1V574.1h1h1V573.9h1V574.1h1h1V574.3h1V574.2h1V574.1h1V574.4h1V573.9h1V574.3h1h1h1h1V574.2h1V574.4h1h1V574.2h1V573.2h1V571.9h1V571.5h1V570.7h1V570.5h1V570.2h1V570.3h1V569.6h1V569.1h1V569h1V569.1h1V569h1V568.8h1h1V568.4h1V568.3h1V568.1h1V567.7h1V567.8h1h1V567.1h1V568.2h1V569.5h1V570.6h1V569.9h1V569.1h1V568.6h1V567.5h1V567.4h1V566.7h1V565.7h1V564.6h1V563.4h1V562.3h1V563.2h1V563.8h1V564.1h1V564.9h1V566h1V566.1h1V564.8h1V562.6h1V560h1V557.5h1V557.6h1V558.1h1V558.4h1V558.7h1V558.3h1V558.5h1V558.8h1V559h1V559.2h1V559.7h1h1V560.3h1V559.6h1V560.2h1V559.8h1V550.2h1V560h1V559.9h1V560.7h1V562.2h1V562.7h1V562.2h1V562.5h1V562.1h1V562.2h1V562h1V562.3h1V561.5h1V561.7h1h1V560.8h1V561h1V560.1h1V560.8h1V560.9h1V560.7h1V560.2h1V561.4h1V562.6h1V562.9h1V563.2h1V563h1V563.1h1V563.3h1V562.8h1V563.1h1V563.3h1V564.5h1V565.3h1V564.8h1V564.7h1V564.9h1V564.4h1V563h1V561h1h1h1h1V561.1h1V560.9h1V561.3h1h1h1V561.2h1V561.1h1V560.8h1V561.9h1V561.1h1V561.7h1V561.5h1V562.2h1V563.2h1h1V563.8h1V563.4h1V563.6h1V563.2h1V563h1V562.8h1V562.7h1V563.1h1V562.8h1V562.9h1V563.5h1V563.9h1h1V564.8h1V566h1h1V565.8h1h1V566.2h1V566.5h1V566.3h1V566.4h1V566.5h1V566.1h1V566.2h1V566.6h1V566.7h1V566.4h1V566.9h1V567.3h1V567h1V567.4h1V567.1h1V567.8h1V568h1V568.3h1V567.6h1V568.2h1V568h1V568.1h1h1V567.8h1h1V568h1V568.2h1h1V568h1V567.3h1h1V566.8h1V566.2h1V565.8h1V565h1V564.1h1V562.6h1V562.7h1V562.6h1V562.8h1V562.4h1h1V562.2h1V562.6h1V562.3h1V562h1h1h1h1V561.1h1V561.8h1V561.2h1V561.9h1V561.6h1V561h1V561.1h1V560.3h1h1V559.8h1V557.9h1V556.6h1V556.1h1V554.1h1V555h1V554h1V554.2h1V554h1V553.5h1V553.1h1V552.1h1V550.9h1V551.6h1V552.2h1V552h1V552.3h1V552.1h1V552.7h1V552.3h1V551.5h1V550.2h1V550.3h1V549.6h1V549.3h1V549.1h1V548.7h1V548.4h1V549.5h1V548.2h1V548.6h1h1V547.4h1V549.4h1V549.9h1V550.9h1V552.3h1V550.6h1V549.3h1V548.5h1V548.2h1V545.1h1V541.5h1V538.4h1V533.9h1V534.5h1V534.1h1V533.6h1V532.2h1V532.3h1V528.6h1V525.3h1V522.7h1V521.1h1V521.2h1V517.5h1V519h1V516.3h1V519.3h1V519h1V521.3h1V523.7h1V519.4h1V518h1V514.9h1V512.3h1V505h1V499.8h1V499.2h1V500.1h1V496.3h1V486.8h1V475.8h1V462.8h1V448.7h1V433.7h1V418h1V406.5h1V391.9h1V371.1h1V355.7h1V348.1h1V337.6h1V346.2h1V343.1h1V339.1h1V334.8h1V328.1h1V324.7h1V323.6h1V320.8h1V328.2h1V330.5h1V316.7h1V312.2h1V303.2h1V301.6h1V295.8h1V295.2h1V297.6h1V286.5h1V283.7h1V283.4h1V289.2h1V284h1V283.1h1V279.3h1V271.9h1V268.1h1V269.6h1h1h1V260h1V251h1V252.9h1V255.6h1V260.5h1V258.2h1V256.4h1V254.5h1V269.3h1V274h1V283.1h1V286.6h1V285.2h1V296.6h1V295.4h1V300h1V301.8h1h1V307.2h1V309h1V309.3h1V311.6h1V307.1h1V305.4h1V310.5h1V304h1V313h1V312.2h1V314.5h1V321.5h1V493.6h1V584Z" fill="#FFA15A"/>
<path d="M84 584V576.7h1V572.6h1V570.4h1h1V570.3h1V570.1h1V569.9h1V569.7h1h1V569.6h1h1V570.1h1V570.4h1V570.8h1V571.3h1V571.7h1V571.6h1h1V571.3h1V571.1h1V570.8h1V570.5h1V570.3h1V570.1h1V569.6h1V569.9h1V570.1h1V570.4h1V570.8h1V570.9h1V570.7h1V570h1V569.5h1V568.7h1V568.4h1V568h1V567.3h1h1V566.8h1V566.6h1V566.2h1V565.7h1V565.4h1V565h1V564.8h1h1V564.5h1h1V564h1V564.1h1V563.9h1h1V563.8h1V563.9h1V563.7h1V563.8h1V563.7h1V564.1h1V564.4h1V564.7h1V564.8h1V564.7h1V564h1V563.7h1V563.1h1V562.7h1V562.5h1V562.2h1V561.9h1V561.8h1V561.5h1V560.6h1V558.9h1V557.3h1V556h1V554.6h1V553.4h1V552.2h1V551.8h1V550.7h1V550.4h1V550.2h1V549.9h1V549.2h1V549.5h1V549.2h1V549.3h1V549.8h1V548.8h1V549.4h1V549.8h1h1V549.7h1V548.6h1V547.2h1V546h1V546.1h1V546.6h1V546.9h1V537.6h1V554.2h1V559.3h1V555.7h1V550.7h1V551.3h1h1V551.4h1V551.5h1V551.6h1V553.5h1V554.7h1V555.5h1V556.7h1V557.5h1h1V557.6h1V557.4h1V557.3h1V556.9h1V556.4h1V555.2h1V555.5h1V555.9h1V556h1V556.6h1h1V557.3h1V558h1V558.6h1V559.2h1V560.1h1V560.2h1V559.9h1V559.2h1V559.1h1V559.5h1V559.9h1V561.8h1V564.3h1V564.2h1V564.1h1V563.9h1V563.6h1V563h1V562.7h1V562.1h1V561.8h1V560.9h1V560.4h1V560h1V559.4h1V558.8h1V558h1V559.1h1V559.9h1V561.3h1V561.9h1h1V561.2h1V561.1h1V561.2h1V560.7h1V560.8h1V560.2h1V560.6h1V560.7h1V560.9h1V561.2h1V561h1V561.1h1V560.8h1V561.1h1V560.8h1V560.4h1V559.9h1V560.3h1V560.2h1V559.6h1V559.4h1V559.5h1V560.6h1V561.3h1V561.6h1V561.8h1V561.7h1V562h1V562.1h1V562.5h1h1V562.6h1V562.5h1V562.7h1h1V562.4h1V561.9h1V561.6h1V561.2h1V560.9h1V560.7h1V561.8h1V563.1h1V564.4h1V564.6h1h1V564.4h1h1V564.5h1V564.2h1V564.4h1V564.5h1V564.7h1V565.1h1V573.1h1V573h1V567.9h1V566.4h1V566.7h1h1V566.8h1V569.4h1V571.2h1V571.6h1V571.9h1V572h1V572.4h1V572.5h1V572.6h1V572.9h1h1h1V573h1V572.7h1V572.5h1V572.2h1V571.9h1V571.8h1h1h1V571.7h1V571.4h1h1V571.5h1V571.4h1h1V571.3h1h1h1h1h1V571.1h1V571.2h1h1h1h1V571.1h1h1V571.2h1V571.7h1V572.3h1V572.6h1V572.7h1h1h1V572.9h1h1h1V573h1h1V572.8h1V572.7h1V572.6h1h1V572.7h1V572.9h1V573.2h1V573.4h1V573.7h1V573.8h1V573.9h1V573.7h1V573.8h1V573.9h1V573.8h1V573.9h1V573.8h1V573.9h1V574.1h1h1V574h1V573.9h1V573.8h1V574h1V573.8h1V573.9h1V573.8h1V573.9h1V573.8h1V573.9h1V573.8h1h1V573.7h1V573.6h1h1V573.8h1V573.9h1V574.6h1V576.2h1V576.1h1V576.2h1h1V576.1h1h1V576.2h1V576.1h1h1h1V576h1h1h1h1V576.1h1V576h1h1V576.1h1V576.2h1V576.1h1h1V576.2h1V576h1V576.2h1h1h1h1h1V576.3h1V576.2h1V575.8h1V574.9h1V573.9h1V573.4h1V572.9h1V572.7h1V572.3h1V572.2h1V571.7h1V571.3h1h1h1V571.2h1V571h1h1V570.8h1V570.6h1V570.5h1V570.3h1V570.2h1h1V569.7h1V570.5h1V571.5h1V572.5h1V572.1h1V571.7h1V571.4h1V570.9h1h1V570.4h1V569.5h1V568.9h1V568.2h1V567.9h1V568.3h1V568.5h1h1V568.9h1V569.4h1V569.5h1V568.8h1V567.7h1V566.2h1V564.9h1V564.7h1V564.9h1h1V564.8h1V564.5h1h1V564.6h1h1V564.7h1V564.8h1h1V564.9h1V563.9h1V563.7h1V562.8h1V562.6h1V563.7h1V565h1V565.6h1V566.6h1V567h1V566.8h1V567.1h1V566.9h1V567h1h1V567.2h1V566.9h1V567.1h1V567.2h1V566.9h1V567.1h1V566.8h1V567.2h1V567.3h1V567.2h1V567h1V567.5h1V567.8h1V567.9h1V568.1h1V567.9h1V568h1V568.1h1V567.9h1V568h1V567.9h1V568.5h1V568.8h1V568.5h1h1V568.7h1V568.4h1V567.6h1V566.4h1h1V566.3h1h1h1V566.2h1V566.4h1h1V566.3h1V566.2h1h1V566h1V566.6h1V566.2h1V566.5h1V566.3h1V566.6h1V567.2h1V567.1h1V567.4h1V567.2h1V567.5h1h1h1V567.6h1V567.7h1V567.9h1V567.8h1h1V568.1h1V568.3h1h1V568.8h1V569.6h1h1V569.5h1V569.6h1V569.8h1V570.1h1V570h1V570.1h1h1V569.8h1h1V570h1h1V569.8h1V570h1V570.2h1V570h1V570.1h1V569.9h1V570.3h1h1V570.5h1V570.1h1V570.4h1V570.3h1h1V570.4h1V570.2h1h1V570.3h1V570.4h1h1V570.3h1V569.8h1V569.7h1V569.3h1V568.9h1V568.6h1V568.1h1V567.6h1V566.6h1V566.7h1V566.5h1V566.6h1V566.2h1V566.1h1V565.9h1V566h1V565.7h1V565.4h1V565.5h1h1h1V565h1V565.4h1V565.1h1V565.6h1V565.4h1V565.1h1V565.2h1V564.8h1h1V564.5h1V563.2h1V562.4h1h1V561.6h1V562.3h1V562.1h1V562.5h1V562.7h1h1V562.8h1V562.7h1V562.5h1V562.7h1V562.9h1V562.7h1h1V562.5h1V562.8h1V562.4h1V561.8h1V561h1V560.8h1V560.4h1V560.1h1V559.9h1V559.7h1V559.5h1V560h1V559.3h1V559.4h1h1V558.7h1V560.1h1V560.8h1V561.8h1V562.7h1V561.7h1V560.9h1V560.3h1V560h1V558.8h1V557.7h1V556.9h1V555.5h1V556h1h1V555.9h1V555.6h1V555.5h1V552.8h1V550.2h1V547.9h1V546.8h1V546.5h1V544.6h1V544.9h1V543.4h1V545.1h1V545.5h1V547.1h1V548.7h1V546.7h1V545.6h1V543.8h1V542.2h1V537.9h1V531.5h1V525.8h1V520.7h1V514.3h1V503.4h1V489.9h1V476.2h1V463.9h1V440.2h1V418.1h1V406.5h1V391.9h1V382.7h1V380.1h1V380.4h1V374.1h1V370.6h1V367h1V361h1V357.9h1V350.9h1V347.1h1V345.8h1V341.7h1V340.5h1V342.5h1V336.5h1V331.2h1V323.2h1V320.5h1V314.9h1V313.4h1V314.4h1V306.1h1V303.5h1V303.9h1V308.2h1V305.1h1V303.8h1V300.5h1V294.8h1V291.5h1V291.4h1V290.3h1V289.2h1V281.6h1V274.5h1V274.9h1V277.7h1V282h1V281.4h1V281.2h1V280.7h1V291.5h1V295.5h1V301.7h1V303.4h1V301.7h1V309.7h1V310h1V314.9h1V317.4h1V317.7h1V321.8h1V322.6h1V321.7h1V322.1h1V318.7h1V317.6h1V321.2h1V316.7h1V324.2h1V323.7h1V325.1h1V331h1V493.6h1V584Z" fill="#AB63FA"/>
<path d="M84 584V576.7h1V572.6h1V570.4h1h1V570.3h1V570.1h1V569.9h1V569.7h1h1V569.6h1h1V570.1h1V570.4h1V570.8h1V571.3h1V571.7h1V571.6h1h1V571.3h1V571.1h1V570.8h1V570.5h1V570.3h1V570.1h1V569.6h1V569.9h1V570.1h1V570.4h1V570.8h1V570.9h1V570.7h1V570h1V569.5h1V568.7h1V568.4h1V568h1V567.3h1h1V566.8h1V566.6h1V566.2h1V565.7h1V565.4h1V565h1V564.8h1h1V564.5h1h1V564h1V564.1h1V563.9h1h1V563.8h1V563.9h1V563.7h1V563.8h1V563.7h1V564.1h1V564.4h1V564.7h1V564.8h1V564.7h1V564h1V563.7h1V563.1h1V562.7h1V562.5h1V562.2h1V561.9h1V561.8h1V561.5h1V560.6h1V558.9h1V557.3h1V556h1V554.6h1V553.4h1V552.2h1V551.8h1V550.7h1V550.4h1V550.2h1V549.9h1V549.2h1V549.5h1V549.2h1V549.3h1V549.8h1V548.8h1V549.4h1V549.8h1h1V549.7h1V548.6h1V547.2h1V546h1V546.1h1V546.6h1V546.9h1V537.6h1V554.2h1V559.3h1V555.7h1V550.7h1V551.3h1h1V551.4h1V551.5h1V551.6h1V553.5h1V554.7h1V555.5h1V556.7h1V557.5h1h1V557.6h1V557.4h1V557.3h1V556.9h1V556.4h1V555.2h1V555.5h1V555.9h1V556h1V556.6h1h1V557.3h1V558h1V558.6h1V559.2h1V560.1h1V560.2h1V559.9h1V559.2h1V559.1h1V559.5h1V559.9h1V561.8h1V564.3h1V564.2h1V564.1h1V563.9h1V563.6h1V563h1V562.7h1V562.1h1V561.8h1V560.9h1V560.4h1V560h1V559.4h1V558.8h1V558h1V559.1h1V559.9h1V561.3h1V561.9h1h1V561.2h1V561.1h1V561.2h1V560.7h1V560.8h1V560.2h1V560.6h1V560.7h1V560.9h1V561.2h1V561h1V561.1h1V560.8h1V561.1h1V560.8h1V560.4h1V559.9h1V560.3h1V560.2h1V559.6h1V559.4h1V559.5h1V560.6h1V561.3h1V561.6h1V561.8h1V561.7h1V562h1V562.1h1V562.5h1h1V562.6h1V562.5h1V562.7h1h1V562.4h1V561.9h1V561.6h1V561.2h1V560.9h1V560.7h1V561.8h1V563.1h1V564.4h1V564.6h1h1V564.4h1h1V564.5h1V564.2h1V564.4h1V564.5h1V564.7h1V565.1h1V573.1h1V573h1V567.9h1V566.4h1V566.7h1h1V566.8h1V569.4h1V571.2h1V571.6h1V571.9h1V572h1V572.4h1V572.5h1V572.6h1V572.9h1h1h1V573h1V572.7h1V572.5h1V572.2h1V571.9h1V571.8h1h1h1V571.7h1V571.4h1h1V571.5h1V571.4h1h1V571.3h1h1h1h1h1V571.1h1V571.2h1h1h1h1V571.1h1h1V571.2h1V571.7h1V572.3h1V572.6h1V572.7h1h1h1V572.9h1h1h1V573h1h1V572.8h1V572.7h1V572.6h1h1V572.7h1V572.9h1V573.2h1V573.4h1V573.7h1V573.8h1V573.9h1V573.7h1V573.8h1V573.9h1V573.8h1V573.9h1V573.8h1V573.9h1V574.1h1h1V574h1V573.9h1V573.8h1V574h1V573.8h1V573.9h1V573.8h1V573.9h1V573.8h1V573.9h1V573.8h1h1V573.7h1V573.6h1h1V573.8h1V573.9h1V574.6h1V576.2h1V576.1h1V576.2h1h1V576.1h1h1V576.2h1V576.1h1h1h1V576h1h1h1h1V576.1h1V576h1h1V576.1h1V576.2h1V576.1h1h1V576.2h1V576h1V576.2h1h1h1h1h1V576.3h1V576.2h1V575.8h1V574.9h1V573.9h1V573.4h1V572.9h1V572.7h1V572.3h1V572.2h1V571.7h1V571.3h1h1h1V571.2h1V571h1h1V570.8h1V570.6h1V570.5h1V570.3h1V570.2h1h1V569.7h1V570.5h1V571.5h1V572.5h1V572.1h1V571.7h1V571.4h1V570.9h1h1V570.7h1V570.5h1h1h1h1V570.8h1V571h1V571.1h1V571.5h1V572.1h1h1V571.4h1V570.3h1V568.8h1V567.5h1V567.4h1h1h1h1V567.2h1V567.1h1V567.2h1V567.3h1h1V567.4h1h1V567.5h1V566.6h1V566.2h1V565.5h1V565.2h1V566.3h1V567.5h1V567.8h1V568.4h1V568.6h1V568.4h1V568.6h1V568.5h1V568.6h1V568.5h1V568.7h1V568.5h1V568.6h1V568.7h1V568.5h1V568.6h1V568.4h1V568.7h1V568.8h1V568.7h1V568.6h1V569h1V569.3h1V569.4h1V569.5h1V569.4h1h1V569.5h1V569.3h1V569.4h1h1V569.9h1V570.1h1V569.9h1h1V570h1V569.8h1V568.8h1V567.7h1h1h1V567.6h1h1V567.5h1V567.6h1h1h1V567.5h1V567.4h1V567.3h1V567.8h1V567.5h1V567.7h1V567.6h1V567.9h1V568.3h1h1V568.5h1V568.4h1V568.7h1V568.6h1V568.7h1h1V568.8h1V569h1V568.9h1V569h1V569.2h1V569.4h1h1V569.9h1V570.6h1V570.7h1V570.6h1V570.7h1V570.9h1V571h1h1h1V571.1h1V570.9h1h1V571h1h1V570.8h1V571h1V571.1h1V571h1V571.1h1V570.9h1V571.2h1V571.3h1V571.4h1V571.1h1V571.3h1h1h1h1V571.2h1h1h1V571.3h1h1V571.2h1V570.9h1V570.7h1V570.3h1V569.8h1V569.5h1V569h1V568.5h1V567.7h1V567.6h1V567.5h1V567.4h1V567.1h1V567h1V566.8h1h1V566.6h1V566.4h1h1h1h1V566h1V566.4h1V566.1h1V566.4h1V566.3h1V566h1V566.1h1V565.7h1h1V565.4h1V564.1h1V563.2h1h1V562.7h1V563.2h1V563.1h1V563.4h1V563.6h1h1V563.7h1V563.6h1V563.4h1V563.5h1V563.7h1V563.5h1V563.6h1V563.4h1V563.6h1V563.2h1V562.6h1V561.9h1V561.7h1V561.2h1V560.9h1V560.8h1V560.6h1V560.4h1V560.7h1V560.2h1V560.3h1V560.2h1V559.7h1V560.9h1V561.8h1V562.8h1V563.5h1V562.5h1V561.8h1V561.1h1V560.7h1V559.6h1V558.5h1V557.7h1V556.4h1V556.7h1V556.8h1V556.7h1V556.5h1V556.3h1V553.7h1V551.2h1V548.9h1V547.8h1V547.4h1V545.9h1V546h1V544.7h1V546.2h1V546.9h1V548.4h1V549.9h1V548.2h1V546.9h1V545.1h1V543.5h1V539.4h1V533.1h1V527.3h1V522h1V515.7h1V505.1h1V491.4h1V477.5h1V465.2h1V441.7h1V419.8h1V406.5h1V391.9h1V385.6h1V382.6h1V381.8h1V376.1h1V372.5h1V368.9h1V363.4h1V359.8h1V352.9h1V349.2h1V348.2h1V344.8h1V343.5h1V344.6h1V339.2h1V333.8h1V326.8h1V323.9h1V318.7h1V316.9h1h1V310.1h1V307.5h1V308.1h1V312.3h1V310.9h1V310.1h1V307.8h1V303.7h1V301.4h1V300.6h1V299.2h1V297.7h1V291.5h1V285.6h1V285.4h1V288.5h1V292.7h1V293.4h1V294.4h1V295.5h1V304.7h1V309h1V314.6h1V316.6h1V316.2h1V323.7h1V326.5h1V333h1V337.7h1V340h1V345h1V346.9h1V346.8h1V347.7h1V346.7h1V347.7h1V351.9h1V350.6h1V358.6h1V359.2h1V360.3h1V365.7h1V493.6h1V584Z" fill="#00CC96"/>
<path d="M660 584V583.9h1V583.7h1V583.5h1V583.3h1V583.1h1V582.9h1h1V582.8h1V582.7h1V582.5h1h1V582.3h1h1V582.1h1V582h1V581.7h1V581.1h1V580.5h1V579.9h1V579.3h1V575.7h1V569.3h1V563.1h1V557.2h1V551.1h1V540.7h1V526.5h1V512.2h1V499.7h1V476.2h1V454.7h1V438.4h1V427.4h1V422.7h1V418.8h1V415.5h1V410.9h1V407h1V403h1V398.6h1V393.6h1V386.6h1V383.3h1V383.6h1V382.1h1V381.5h1V382.2h1V378.4h1V373.5h1V368.1h1V365.3h1V361.2h1V357.9h1V355.1h1V348.5h1V344.3h1V343.8h1V346.4h1V345.9h1V344.7h1V342.3h1V339h1V336.7h1V334.2h1V331.3h1V328.4h1V322.7h1V317.2h1V315.3h1V318h1V321.3h1V322.5h1V324h1V325.9h1V332.6h1V336.3h1V341h1V343.7h1V345h1V351.1h1V354.7h1V361.3h1V366.6h1V369.8h1V374.6h1V376.6h1V376.4h1V376.7h1h1V378.1h1V381.3h1V381.4h1V388.5h1V389.4h1V390.1h1V395h1V493.6h1V584Z" fill="#EF553B"/>
<path d="M660 584V583.9h1V583.7h1V583.5h1V583.3h1V583.1h1V582.9h1h1V582.8h1V582.7h1V582.5h1h1V582.3h1h1V582.1h1V582h1V581.7h1V581.1h1V580.5h1V579.9h1V579.3h1V575.7h1V569.3h1V563.1h1V557.2h1V551.1h1V540.7h1V526.5h1V512.2h1V499.7h1V476.2h1V454.7h1V438.4h1V427.4h1V422.7h1V418.8h1V415.5h1V410.9h1V407h1V403h1V398.6h1V393.6h1V386.6h1V383.3h1V383.6h1V383.3h1V383.9h1V385.1h1V383h1V379.3h1V375.9h1V374.7h1V373h1V371.9h1V371.2h1V368.8h1V367.4h1V370h1V374.5h1V377.6h1V378.7h1V379.3h1h1V379.9h1V379.7h1V379.3h1V379h1V377.5h1V376.1h1V376.3h1V379.1h1V382.1h1V384.3h1V386.9h1V390.3h1V395.6h1V399.8h1V403.6h1V405.8h1V407.4h1V410.7h1V412.8h1V417h1V422.6h1V428.1h1V434.2h1V437.5h1V438.4h1V439.4h1V439.6h1V439.9h1V440.9h1V440.7h1V445.6h1V450.7h1V456.2h1V465.8h1V493.6h1V584Z" fill="#636EFA"/></g></g>

<rect x="799" y="214.2" width="7" height="7" fill="#FF6692"/><text x="815" y="221.7" class="lg">NOS</text>
<rect x="799" y="232.1" width="7" height="7" fill="#19D3F3"/><text x="815" y="239.6" class="lg">MAP Protocol</text>
<rect x="799" y="250.0" width="7" height="7" fill="#FFA15A"/><text x="815" y="257.5" class="lg">AILayer</text>
<rect x="799" y="267.8" width="7" height="7" fill="#AB63FA"/><text x="815" y="275.3" class="lg">Libre</text>
<rect x="799" y="285.7" width="7" height="7" fill="#00CC96"/><text x="815" y="293.2" class="lg">Rollux</text>
<rect x="799" y="303.6" width="7" height="7" fill="#EF553B"/><text x="815" y="311.1" class="lg">SatoshiVM</text>
<rect x="799" y="321.5" width="7" height="7" fill="#636EFA"/><text x="815" y="329.0" class="lg">Naka</text>
<rect x="799" y="339.4" width="7" height="7" fill="#FECB52"/><text x="815" y="346.9" class="lg">BEVM</text>
<rect x="799" y="357.2" width="7" height="7" fill="#FF97FF"/><text x="815" y="364.7" class="lg">Interlay</text>
<rect x="799" y="375.1" width="7" height="7" fill="#B6E880"/><text x="815" y="382.6" class="lg">BOB</text>
<rect x="799" y="393.0" width="7" height="7" fill="#FF6692"/><text x="815" y="400.5" class="lg">BSquared</text>
<rect x="799" y="410.9" width="7" height="7" fill="#19D3F3"/><text x="815" y="418.4" class="lg">BounceBit</text>
<rect x="799" y="428.8" width="7" height="7" fill="#FFA15A"/><text x="815" y="436.3" class="lg">Stacks</text>
<rect x="799" y="446.6" width="7" height="7" fill="#AB63FA"/><text x="815" y="454.1" class="lg">Core</text>
<rect x="799" y="464.5" width="7" height="7" fill="#00CC96"/><text x="815" y="472.0" class="lg">Rootstock</text>
<rect x="799" y="482.4" width="7" height="7" fill="#EF553B"/><text x="815" y="489.9" class="lg">Bitlayer</text>
<rect x="799" y="500.3" width="7" height="7" fill="#636EFA"/><text x="815" y="507.8" class="lg">Merlin</text>

<!-- footer -->
<rect x="19" y="645" width="922" height="1" fill="#8a8a8a"/>
<text transform="translate(28,692.5) scale(1.033,1.09)" class="src">SOURCE:</text>
<g>
<circle cx="169.7" cy="680.8" r="4.2" fill="#3030a8"/>
<ellipse cx="148.7" cy="680.2" rx="7.8" ry="3.4" fill="#8b6cf5"/><ellipse cx="160.6" cy="680.6" rx="2.3" ry="2" fill="#8b6cf5"/>
<ellipse cx="157.6" cy="668.8" rx="6.2" ry="3" transform="rotate(38 157.6 668.8)" fill="#8b6cf5"/><circle cx="163.7" cy="675" r="1.9" fill="#8b6cf5"/>
<ellipse cx="169.7" cy="667.3" rx="3" ry="3.8" fill="#3cc9a3"/><ellipse cx="169.7" cy="673.4" rx="2.2" ry="1.6" fill="#3cc9a3"/>
<ellipse cx="178.8" cy="672.2" rx="3.8" ry="2.6" transform="rotate(-38 178.8 672.2)" fill="#3cc9a3"/><circle cx="175.3" cy="676.3" r="1.7" fill="#3cc9a3"/>
<ellipse cx="183.3" cy="681.3" rx="3.8" ry="2.4" fill="#f5b731"/><circle cx="177.3" cy="681" r="1.7" fill="#f5b731"/>
<ellipse cx="180.4" cy="690.9" rx="4.8" ry="2.8" transform="rotate(45 180.4 690.9)" fill="#f5b731"/><circle cx="175.5" cy="686.3" r="1.9" fill="#f5b731"/>
<ellipse cx="169.6" cy="697.6" rx="3.4" ry="6.4" fill="#e8436e"/><circle cx="169.7" cy="689.2" r="2.1" fill="#e8436e"/>
<ellipse cx="154.8" cy="694.2" rx="8" ry="3.6" transform="rotate(-38 154.8 694.2)" fill="#e8436e"/><circle cx="163.1" cy="686.8" r="2.3" fill="#e8436e"/>
</g>
<text transform="translate(195.4,692) scale(1.077,1)" class="fp">Footprint Analytics</text>
<text transform="translate(715.6,692.8) scale(1.012,1.10)" class="cr">CREATOR:<tspan font-weight="bold">@0X-lam</tspan></text>
</svg>
</body></html>
